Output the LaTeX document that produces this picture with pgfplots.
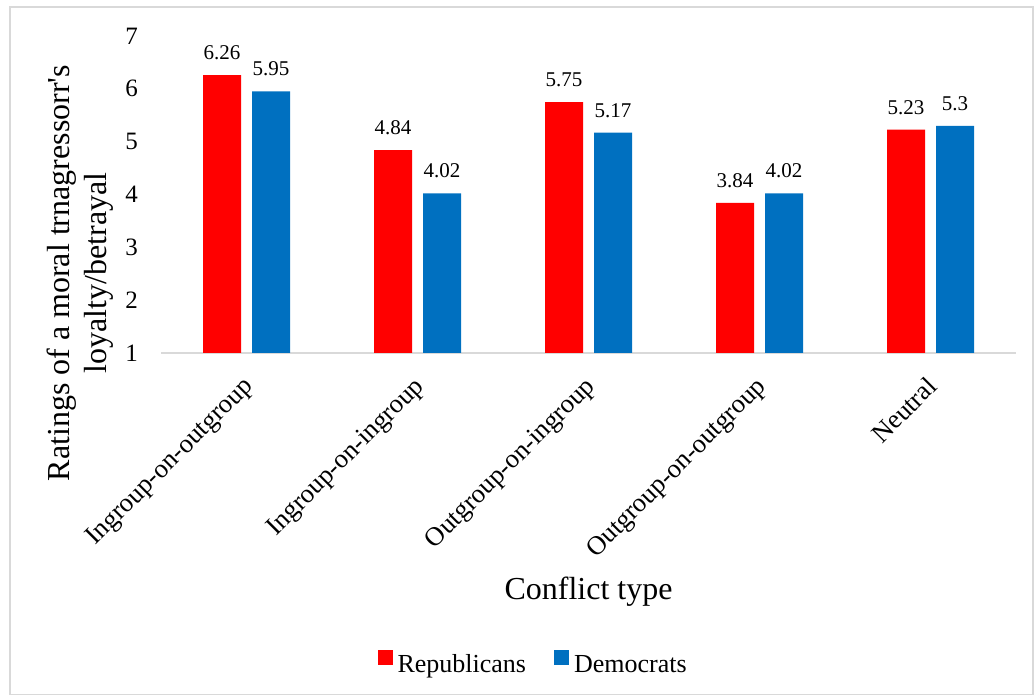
\documentclass[border=0pt]{standalone}
\usepackage{pgfplots}
\pgfplotsset{compat=1.18}
\usepackage{fontspec}
\setmainfont{Liberation Serif}
\definecolor{repred}{RGB}{255,0,0}
\definecolor{demblue}{RGB}{0,112,192}
\definecolor{linegray}{RGB}{217,217,217}
\begin{document}
\begin{tikzpicture}
\useasboundingbox (0pt,0pt) rectangle (1034pt,696pt);
\draw[linegray, line width=1.5pt] (10pt,1.5pt) rectangle (1033pt,689pt);
\begin{axis}[
  at={(161pt,343pt)}, anchor=south west,
  width=855pt, height=317pt, scale only axis,
  ybar=11pt, bar width=38pt,
  xmin=-0.5, xmax=4.5, ymin=1, ymax=7,
  ytick={1,2,3,4,5,6,7},
  xtick={0,1,2,3,4},
  xticklabels={Ingroup-on-outgroup,Ingroup-on-ingroup,Outgroup-on-ingroup,Outgroup-on-outgroup,Neutral},
  major tick length=0pt,
  /pgf/number format/assume math mode=true,
  axis x line=bottom, axis y line=left,
  y axis line style={draw=none},
  x axis line style={draw=linegray, line width=1.5pt, -},
  yticklabel style={font=\fontsize{25}{30}\selectfont, inner sep=0pt, xshift=-23pt},
  xticklabel style={font=\fontsize{26.5}{30}\selectfont, inner sep=0pt, xshift=-5pt, yshift=-22pt, rotate=45, anchor=north east},
  nodes near coords,
  every node near coord/.append style={font=\fontsize{21}{24}\selectfont, inner sep=0pt, anchor=south, yshift=15pt, black},
  xlabel={Conflict type},
  every axis x label/.style={at={(axis description cs:0.5,-0.779)}, anchor=base, font=\fontsize{32}{37}\selectfont},
  ylabel={Ratings of a moral trnagressorr\textquotesingle s\\loyalty/betrayal},
  every axis y label/.style={at={(axis description cs:-0.0947,0.252)}, rotate=90, anchor=center, align=center, font=\fontsize{32}{37}\selectfont},
  legend columns=2,
  legend style={at={(axis description cs:0.434,-0.975)}, anchor=center, draw=none, fill=none,
    font=\fontsize{26}{30}\selectfont, column sep=5pt,
    nodes={inner sep=0pt},
    /tikz/every even column/.append style={column sep=28pt}},
  legend image code/.code={\fill[#1] (0pt,0pt) rectangle (15pt,15pt);},
]
\addplot[fill=repred, draw=none] coordinates {(0,6.26) (1,4.84) (2,5.75) (3,3.84) (4,5.23)};
\addplot[fill=demblue, draw=none] coordinates {(0,5.95) (1,4.02) (2,5.17) (3,4.02) (4,5.3)};
\legend{Republicans,Democrats}
\end{axis}
\end{tikzpicture}
\end{document}
